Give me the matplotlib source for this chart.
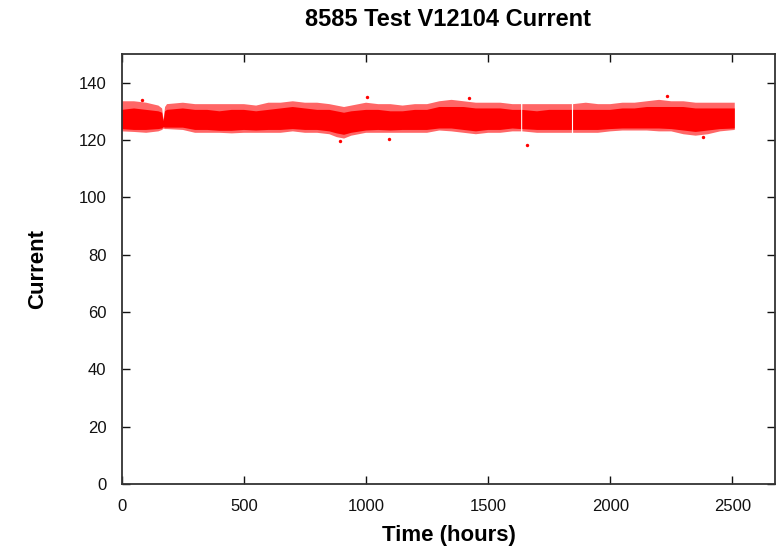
import numpy as np
import matplotlib
matplotlib.use("Agg")
import matplotlib.pyplot as plt

plt.rcParams["font.family"] = ["Liberation Sans", "DejaVu Sans"]

# envelope of the scatter band (hours, current)
nan = np.nan
hours = [0, 50, 100, 150, 165, 171, 177, 185, 250, 300, 350, 400, 450, 500,
         550, 600, 650, 700, 750, 800, 850, 880, 910, 940, 1000, 1050, 1100,
         1150, 1200, 1250, 1300, 1350, 1400, 1450, 1500, 1550, 1600, 1635,
         1637, 1640, 1700, 1750, 1800, 1843, 1845, 1848, 1900, 1950, 2000,
         2050, 2100, 2150, 2200, 2250, 2300, 2350, 2400, 2450, 2510]
dense_lo = [123.8, 123.5, 123.5, 123.8, 124.0, 124.5, 124.3, 124.3, 124.3,
            123.5, 123.5, 123.2, 123.2, 123.5, 123.3, 123.5, 123.5, 123.8,
            123.5, 123.5, 123.0, 122.3, 121.8, 122.5, 123.3, 123.5, 123.3,
            123.5, 123.5, 123.5, 124.0, 124.0, 123.5, 123.0, 123.5, 123.5,
            124.0, 123.8, nan, 123.8, 123.5, 123.5, 123.5, 123.5, nan, 123.5,
            123.5, 123.5, 123.8, 124.0, 124.0, 124.0, 124.0, 123.8, 123.3,
            122.8, 123.3, 123.8, 124.0]
dense_hi = [130.5, 131.0, 130.5, 130.0, 129.5, 126.5, 130.0, 130.5, 131.0,
            130.5, 130.5, 130.0, 130.5, 130.5, 130.0, 130.5, 131.0, 131.5,
            131.0, 130.5, 130.5, 130.0, 129.5, 130.0, 130.5, 130.5, 130.0,
            130.0, 130.5, 130.5, 131.5, 131.5, 131.5, 131.0, 131.0, 131.0,
            130.5, 130.5, nan, 130.5, 130.0, 130.5, 130.5, 130.5, nan, 130.5,
            130.5, 130.5, 130.5, 131.0, 131.0, 131.5, 131.5, 131.5, 131.5,
            131.0, 131.0, 131.0, 131.0]
sparse_lo = [123.0, 122.8, 122.5, 123.0, 123.5, 124.0, 123.8, 123.8, 123.5,
             122.5, 122.5, 122.5, 122.3, 122.5, 122.5, 122.5, 122.5, 123.0,
             122.5, 122.5, 122.0, 121.0, 120.5, 121.5, 122.5, 122.5, 122.5,
             122.5, 122.5, 122.5, 123.3, 123.0, 122.5, 122.0, 122.5, 122.5,
             123.0, 123.0, nan, 123.0, 122.5, 122.5, 122.5, 122.5, nan, 122.5,
             122.5, 122.5, 123.0, 123.3, 123.3, 123.3, 123.0, 123.0, 122.0,
             121.5, 122.0, 123.0, 123.5]
sparse_hi = [133.5, 133.5, 133.0, 132.0, 131.0, 127.0, 131.5, 132.5, 133.0,
             132.5, 132.5, 132.5, 132.5, 132.5, 132.0, 133.0, 133.0, 133.5,
             133.0, 133.0, 132.5, 132.0, 131.5, 132.0, 133.0, 132.5, 132.5,
             132.0, 132.5, 132.5, 133.5, 134.0, 133.5, 133.0, 133.0, 133.0,
             132.5, 132.5, nan, 132.5, 132.5, 132.5, 132.5, 132.5, nan, 132.5,
             133.0, 132.5, 132.5, 133.0, 133.0, 133.5, 134.0, 133.5, 133.5,
             133.0, 133.0, 133.0, 133.0]

# isolated readings outside the band
out_hours = [82, 892, 1006, 1093, 1661, 2234, 1420, 2380]
out_current = [134.1, 119.5, 135.1, 120.5, 118.4, 135.5, 134.5, 121.0]

fig = plt.figure(figsize=(7.76, 5.53), dpi=100)
ax = fig.add_axes([0.157, 0.1248, 0.8418, 0.7776])

ax.fill_between(hours, sparse_lo, sparse_hi, color="#ff0000", alpha=0.6,
                linewidth=0)
ax.fill_between(hours, dense_lo, dense_hi, color="#ff0000", linewidth=0)
ax.scatter(out_hours, out_current, s=6, color="#ff0000", linewidths=0)

ax.set_xlim(0, 2675)
ax.set_ylim(0, 150)
ax.set_xticks([0, 500, 1000, 1500, 2000, 2500])
ax.set_yticks(range(0, 141, 20))
ax.tick_params(direction="in", length=6, width=1, top=True, right=True,
               labelsize=12, pad=11, colors="#111111")
for s in ax.spines.values():
    s.set_linewidth(1.3)
    s.set_color("#333333")

ax.set_title("8585 Test V12104 Current", fontsize=17, fontweight="bold",
             pad=20)
ax.set_xlabel("Time (hours)", fontsize=16, fontweight="bold", labelpad=8)
ax.set_ylabel("Current", fontsize=16, fontweight="bold", labelpad=22)

fig.savefig("out.png", dpi=100)
